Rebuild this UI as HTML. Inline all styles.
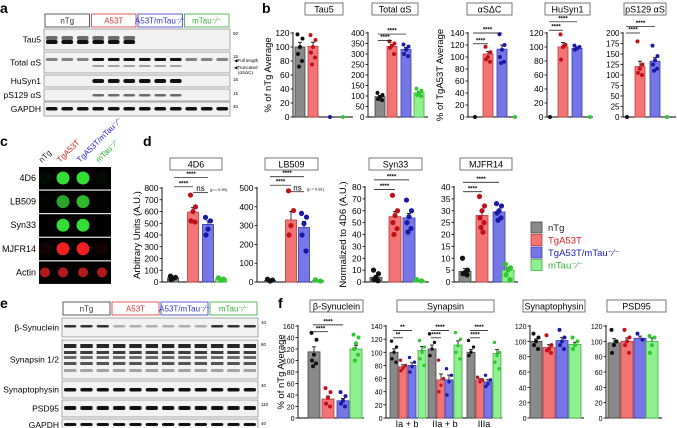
<!DOCTYPE html>
<html><head><meta charset="utf-8">
<style>
html,body{margin:0;padding:0;background:#fff;}
svg{display:block;font-family:"Liberation Sans",sans-serif;}
</style></head>
<body>
<svg id="fig" width="677" height="428" viewBox="0 0 677 428" xmlns="http://www.w3.org/2000/svg">
<g id="static" font-weight="bold" font-size="14">
<text x="0" y="13">a</text>
<text x="262" y="13">b</text>
<text x="0" y="146">c</text>
<text x="143" y="146">d</text>
<text x="0" y="308">e</text>
<text x="278" y="308">f</text>
</g>
</svg>
<script>
// ---------- data ----------
const groups = ["nTg","TgA53T","TgA53T/mTau-/-","mTau-/-"];
const tau5Means = [100,101,0,0];
const tau5Pts = [[118,112,100,90,80,72],[117,110,100,92,85,75],[0],[0]];
const totalMeans = [97,336,322,115];
const totalPts = [[115,105,95,85,80],[360,350,340,330,300],[345,335,320,300,290],[135,125,115,105,100]];
const dcMeans = [0,105,113,0];
const dcPts = [[0],[117,108,100,96,92],[138,120,112,100,92,90],[0]];
const husynMeans = [0,100,98,0];
const husynPts = [[0],[118,103,100,82],[102,100,98,96],[0]];
const pSMeans = [0,120,133,0];
const pSPts = [[0],[180,125,115,105,100],[170,145,135,125,115,110],[0]];
const d4Means = [35,595,490,25];
const d4Pts = [[50,40,30,20],[740,640,600,520,510],[550,520,450,400],[35,25,15]];
const lbMeans = [8,330,290,8];
const lbPts = [[15,10,5],[485,380,300,250],[365,345,310,250,165],[12,5]];
const syn33Means = [4,55,54,1];
const syn33Pts = [[10,7,4,2,1],[73,60,56,50,45,40],[69,60,55,50,45,42],[2,1]];
const mjMeans = [4.5,28,29.5,5];
const mjPts = [[10,5,4,3.5,3],[36,32,30,27,25,23,21],[33,32,30,29,27,26],[7.5,6,5,3,1]];
const bsynMeans = [115,33,30,120];
const bsynPts = [[148,136,110,100,95,90],[52,45,35,25,20],[45,38,30,25,20],[145,140,130,120,110,100]];
const synapsinCats = ["Ia + b","IIa + b","IIIa"];
const synapsinMeans = [[100,78,80,103],[105,58,58,111],[100,58,55,98]];
const synapsinPts = [[[117,108,100,90,85],[88,80,76,72],[92,85,78,70],[118,108,100,90,80]],
  [[128,115,105,95],[88,60,50,40],[75,65,55,35],[130,120,110,100,90]],
  [[118,108,100,95],[62,58,55],[65,58,52,48],[115,100,95,85,75]]];
const sypMeans = [100,92,101,96];
const sypPts = [[110,105,100,95,90],[108,95,90,88,85],[115,105,100,95,90],[105,100,95,90]];
const psdMeans = [98,100,104,100];
const psdPts = [[115,100,95,85],[115,105,100,95,85],[110,102],[107,105,95,85]];

// ---------- helpers ----------
const NS="http://www.w3.org/2000/svg";
const svg=document.getElementById('fig');
function mk(tag,attrs,parent){const e=document.createElementNS(NS,tag);for(const k in attrs)e.setAttribute(k,attrs[k]);(parent||svg).appendChild(e);return e;}
function txt(x,y,s,attrs,parent){const t=mk('text',Object.assign({x:x,y:y,'font-size':9,fill:'#000'},attrs||{}),parent);t.textContent=s;return t;}
const fills=["#8a8a8a","#f27474","#7676e6","#8ff08f"];
const strokes=["#444","#c03838","#3a3aa8","#3fae3f"];
const dots=["#111","#c0101a","#1a1aa6","#2ec82e"];
const jit=[-2.5,2.5,0,-2,2,-1,1];

function chart(c){
  const g=mk('g',{});
  
  
  const y=v=>c.y0-(v/c.max)*(c.y0-c.ytop);
  // title box
  if(c.title){
    const tb=mk('rect',{x:c.tx0,y:c.ty,width:c.tx1-c.tx0,height:12,fill:'#fff',stroke:'#555','stroke-width':0.8},g);
    
    const tt=txt((c.tx0+c.tx1)/2,c.ty+9.5,c.title,{'text-anchor':'middle','font-size':9},g);
    
  }
  // axes
  mk('line',{x1:c.ax,y1:c.ytop-1,x2:c.ax,y2:c.y0,stroke:'#000','stroke-width':0.9},g);
  mk('line',{x1:c.ax,y1:c.y0,x2:c.xend,y2:c.y0,stroke:'#000','stroke-width':0.9},g);
  for(let v=0;v<=c.max+1e-9;v+=c.step){
    const yy=y(v);
    mk('line',{x1:c.ax-2.5,y1:yy,x2:c.ax,y2:yy,stroke:'#000','stroke-width':0.8},g);
    if(c.minor){mk('line',{x1:c.ax-1.5,y1:y(v+c.step/2),x2:c.ax,y2:y(v+c.step/2),stroke:'#000','stroke-width':0.6},g);}
    const tl=txt(c.ax-3.5,yy+3,String(v),{'text-anchor':'end','font-size':c.fs||8.5},g);
    
  }
  if(c.ylab){
    const yl=txt(0,0,c.ylab,{'text-anchor':'middle','font-size':9.5,transform:`translate(${c.ylx},${(c.ytop+c.y0)/2}) rotate(-90)`},g);
    
  }
  // bars
  c.sets.forEach((set,si)=>{
    set.means.forEach((m,i)=>{
      const cx=set.xs[i], w=c.bw||10;
      if(m>0){
        const b=mk('rect',{x:cx-w/2,y:y(m),width:w,height:c.y0-y(m),fill:fills[i],stroke:strokes[i],'stroke-width':0.8},g);
        
        
        const pts=set.pts[i];
        const mean=pts.reduce((a,b)=>a+b,0)/pts.length;
        const sd=Math.sqrt(pts.reduce((a,b)=>a+(b-mean)**2,0)/pts.length)/Math.sqrt(pts.length);
        mk('line',{x1:cx,y1:y(m),x2:cx,y2:y(m+sd),stroke:'#000','stroke-width':0.8},g);
        mk('line',{x1:cx-2,y1:y(m+sd),x2:cx+2,y2:y(m+sd),stroke:'#000','stroke-width':0.8},g);
      }
      set.pts[i].forEach((p,k)=>{
        const d=mk('circle',{cx:cx+(set.pts[i].length>1?jit[k%jit.length]:0),cy:y(p),r:c.r||2,fill:dots[i]},g);
        
      });
    });
  });
  // significance
  (c.sig||[]).forEach(s=>{
    const yy=y(s.v);
    mk('line',{x1:s.x1,y1:yy,x2:s.x2,y2:yy,stroke:'#000','stroke-width':0.7},g);
    txt((s.x1+s.x2)/2,yy-1.5,s.t,{'text-anchor':'middle','font-size':6,'font-weight':'bold'},g);
  });
  (c.xlabels||[]).forEach(l=>{const t=txt(l.x,l.y,l.t,{'text-anchor':'middle','font-size':9},g);
    });
  return g;
}

// ---------- panel b ----------
chart({name:'tau5-chart',title:'Tau5',tx0:305,tx1:343,ty:3,ax:293,ytop:33,y0:117,max:120,step:20,xend:353,ylab:'% of nTg Average',ylx:271,
  sets:[{xs:[300,313,330,343],means:tau5Means,pts:tau5Pts}]});
chart({name:'total-as-chart',title:'Total \u03B1S',tx0:372,tx1:418,ty:3,ax:368,ytop:33,y0:117,max:400,step:50,xend:428,fs:8,
  sets:[{xs:[380,392,406,419],means:totalMeans,pts:totalPts}],
  sig:[{x1:378,x2:392,v:365,t:'****'},{x1:378,x2:406,v:395,t:'****'}]});
chart({name:'as-dc-chart',title:'\u03B1S\u0394C',tx0:467,tx1:512,ty:3,ax:468,ytop:33,y0:117,max:140,step:20,xend:517,ylab:'% of TgA53T Average',ylx:443,
  sets:[{xs:[475,488,502,515],means:dcMeans,pts:dcPts}],
  sig:[{x1:473,x2:488,v:122,t:'****'},{x1:473,x2:502,v:140,t:'****'}]});
chart({name:'husyn1-chart',title:'HuSyn1',tx0:545,tx1:590,ty:3,ax:547,ytop:33,y0:117,max:120,step:20,xend:593,
  sets:[{xs:[550,563,577,590],means:husynMeans,pts:husynPts}],
  sig:[{x1:549,x2:563,v:124,t:'****'},{x1:549,x2:577,v:136,t:'****'}]});
chart({name:'ps129-chart',title:'pS129 \u03B1S',tx0:624,tx1:666,ty:3,ax:623,ytop:33,y0:117,max:200,step:25,xend:676,fs:8,
  sets:[{xs:[627,640,655,667],means:pSMeans,pts:pSPts}],
  sig:[{x1:626,x2:640,v:200,t:'****'},{x1:626,x2:655,v:215,t:'****'}]});

// ---------- panel d ----------
chart({name:'4d6-chart',title:'4D6',tx0:170,tx1:222,ty:158,ax:162,ytop:188,y0:282,max:800,step:100,xend:226,ylab:'Arbitrary Units (A.U.)',ylx:140,r:2.6,bw:11,
  sets:[{xs:[173,193,208,221],means:d4Means,pts:d4Pts}],
  sig:[{x1:174,x2:193,v:810,t:'****'},{x1:174,x2:208,v:890,t:'****'},{x1:193,x2:208,v:760,t:'ns'}]});
chart({name:'lb509-chart',title:'LB509',tx0:265,tx1:318,ty:158,ax:257,ytop:188,y0:282,max:500,step:100,xend:322,r:2.6,bw:11,
  sets:[{xs:[270,291,304,318],means:lbMeans,pts:lbPts}],
  sig:[{x1:270,x2:291,v:515,t:'****'},{x1:270,x2:304,v:560,t:'****'},{x1:291,x2:304,v:480,t:'ns'}]});
chart({name:'syn33-chart',title:'Syn33',tx0:369,tx1:422,ty:158,ax:365,ytop:187,y0:282,max:80,step:10,xend:429,ylab:'Normalized to 4D6 (A.U.)',ylx:346,r:2.6,bw:12,
  sets:[{xs:[376,395,409,419],means:syn33Means,pts:syn33Pts}],
  sig:[{x1:374,x2:395,v:78,t:'****'},{x1:374,x2:409,v:86,t:'****'}]});
chart({name:'mjfr14-chart',title:'MJFR14',tx0:460,tx1:512,ty:158,ax:454,ytop:187,y0:282,max:40,step:5,xend:518,r:2.6,bw:12,
  sets:[{xs:[465,482,499,508],means:mjMeans,pts:mjPts}],
  sig:[{x1:463,x2:482,v:38,t:'****'},{x1:463,x2:499,v:42,t:'****'}]});
svg.querySelectorAll('text').forEach(t=>{if(t.textContent==='ns'){t.setAttribute('font-size','8');t.setAttribute('font-weight','normal');
  const p=t.cloneNode();p.textContent=t.getAttribute('x')<250?'(p = 0.99)':'(p = 0.81)';p.setAttribute('x',+t.getAttribute('x')+18);p.setAttribute('font-size','4');svg.appendChild(p);}});

// legend
const legLabels=["nTg","TgA53T","TgA53T/mTau\u207B\u2044\u207B","mTau\u207B\u2044\u207B"];
const legColors=["#d34040","#3838c8"];
legLabels.forEach((l,i)=>{
  const yy=227+i*12.5;
  const r=mk('rect',{x:531,y:yy-5,width:11,height:11,fill:fills[i],stroke:strokes[i],'stroke-width':0.8});
  
  const t=txt(548,yy+4,l,{'font-size':9.5,fill:["#222","#d02020","#2020b8","#30b030"][i]});
  
});

// ---------- panel f ----------
chart({name:'beta-synuclein-chart',title:'\u03B2-Synuclein',tx0:310,tx1:363,ty:300,ax:298,ytop:326,y0:418,max:160,step:20,xend:364,ylab:'% of nTg Average',ylx:284,fs:7,bw:12,
  sets:[{xs:[314,328,343,356],means:bsynMeans,pts:bsynPts}],
  sig:[{x1:313,x2:328,v:150,t:'****'},{x1:313,x2:343,v:162,t:'****'}]});
chart({name:'synapsin-chart',title:'Synapsin',tx0:397,tx1:494,ty:300,ax:386,ytop:326,y0:418,max:140,step:20,xend:502,fs:7,bw:8,r:1.7,
  sets:synapsinCats.map((c,k)=>({xs:[[394,403,412,422],[432,441,449,458],[471,480,488,497]][k],means:synapsinMeans[k],pts:synapsinPts[k]})),
  sig:[{x1:393,x2:403,v:122,t:'**'},{x1:393,x2:412,v:133,t:'**'},{x1:431,x2:441,v:122,t:'****'},{x1:431,x2:449,v:133,t:'****'},{x1:470,x2:480,v:122,t:'****'},{x1:470,x2:488,v:133,t:'****'}],
  xlabels:synapsinCats.map((t,k)=>({x:[407,445,484][k],y:427,t:t}))});
chart({name:'synaptophysin-chart',title:'Synaptophysin',tx0:523,tx1:585,ty:300,ax:530,ytop:326,y0:418,max:120,step:20,xend:584,fs:7,bw:12,
  sets:[{xs:[536,549,562,575],means:sypMeans,pts:sypPts}]});
chart({name:'psd95-chart',title:'PSD95',tx0:607,tx1:666,ty:300,ax:606,ytop:326,y0:418,max:120,step:20,xend:662,fs:7,bw:12,
  sets:[{xs:[614,627,640,652],means:psdMeans,pts:psdPts}]});

// ---------- blots ----------
function headers(x0,w,y0,labels){
  const cols=["#333","#d33","#33c","#3a3"];
  labels.forEach((l,i)=>{
    const r=mk('rect',{x:x0+i*w+1,y:y0,width:w-2,height:13,fill:'#fff',stroke:cols[i],'stroke-width':0.8});
    
    const t=txt(x0+i*w+w/2,y0+9.5,l,{'text-anchor':'middle','font-size':8,fill:cols[i]});
    
  });
}
function blotRow(x0,x1,y0,h,label,lanes,bandFn,mw){
  const g=mk('g',{});
  
  
  mk('rect',{x:x0,y:y0,width:x1-x0,height:h,fill:'#f2f2f2',stroke:'#888','stroke-width':0.7},g);
  const lw=(x1-x0)/12;
  for(let i=0;i<12;i++)bandFn(g,x0+lw*i+lw*0.12,lw*0.76,i);
  txt(x0-3,y0+h/2+3,label,{'text-anchor':'end','font-size':8.5},g);
  if(mw)txt(x1+3,y0+6,mw,{'font-size':4.5},g);
}
const band=(yy,hh,op)=>(g,x,w,i)=>{const o=typeof op==='function'?op(i):op;if(o>0)mk('rect',{x:x,y:yy,width:w,height:hh,rx:2,fill:'#111','fill-opacity':o},g);};
headers(44,46.5,14,["nTg","A53T","A53T/mTau\u207B\u2044\u207B","mTau\u207B\u2044\u207B"]);
blotRow(44,230,29,21,"Tau5",12,(g,x,w,i)=>{if(i<6){mk('rect',{x:x,y:36,width:w,height:4,rx:2,fill:'#111','fill-opacity':0.6},g);mk('rect',{x:x,y:40,width:w,height:4,rx:2,fill:'#111'},g);}},"50");
blotRow(44,230,52,21,"Total \u03B1S",12,(g,x,w,i)=>{mk('rect',{x:x,y:58,width:w,height:3,rx:1.5,fill:'#111','fill-opacity':(i>=3&&i<9)?1:0.5},g);if(i>=3&&i<9)mk('rect',{x:x,y:65,width:w,height:2,rx:1,fill:'#111','fill-opacity':0.35},g);},"15");
blotRow(44,230,75,12,"HuSyn1",12,band(79,4,i=>(i>=3&&i<9)?1:0),"15");
blotRow(44,230,89,12,"pS129 \u03B1S",12,band(94,2.5,i=>(i>=3&&i<9)?0.6:0),"15");
blotRow(44,230,102,14,"GAPDH",12,band(107,3.5,1),"40");
txt(234,62,"\u25C0Full length",{'font-size':4.5});
txt(234,69,"\u25C0Truncated",{'font-size':4.5});
txt(238,74,"(\u03B1S\u0394C)",{'font-size':4.5});

headers(62,49,302,["nTg","A53T","A53T/mTau\u207B\u2044\u207B","mTau\u207B\u2044\u207B"]);
blotRow(62,258,318,19,"\u03B2-Synuclein",12,band(325,2.5,i=>(i<3||i>=9)?0.85:0.3),"10");
blotRow(62,258,340,39,"Synapsin 1/2",12,(g,x,w,i)=>{[[344,4,0.9],[351,3,0.8],[356,3,0.6],[362,3,0.7],[369,3,0.35]].forEach(b=>mk('rect',{x:x,y:b[0],width:w,height:b[1],fill:'#111','fill-opacity':b[2]},g));},"80");
blotRow(62,258,381,17,"Synaptophysin",12,band(388,3.5,1),"40");
blotRow(62,258,400,17,"PSD95",12,band(406,4,1),"110");
blotRow(62,258,419,12,"GAPDH",12,band(423,3,1),"40");

// ---------- panel c dot blot ----------
const dotRows=["4D6","LB509","Syn33","MJFR14","Actin"];
const dotInt=[[0.05,1,1,0.05],[0.02,0.8,0.9,0.02],[0,1,1,0],[0.08,1,1,0.08],[0.8,0.8,0.8,0.8]];
const dotCol=["#33dd33","#33cc33","#33dd33","#ee2020","#dd2020"];
dotRows.forEach((r,k)=>{
  const y0=167+k*23.6;
  const g=mk('g',{});
  
  
  mk('rect',{x:39,y:y0,width:72,height:22.5,fill:'#000'},g);
  [45,63,83,102].forEach((cx,i)=>{if(dotInt[k][i]>0)mk('circle',{cx:cx,cy:y0+11,r:k==4?5:6.5,fill:dotCol[k],'fill-opacity':dotInt[k][i]},g);});
  txt(36,y0+14,r,{'text-anchor':'end','font-size':9},g);
});
[["nTg","#222",45],["TgA53T","#d22",63],["TgA53T/mTau\u207B\u2044\u207B","#22c",83],["mTau\u207B\u2044\u207B","#2a2",102]].forEach(l=>{
  const t=txt(l[2]-3,163,l[0],{'font-size':8,fill:l[1],transform:`rotate(-45 ${l[2]-3} 163)`});
  
});
</script>
</body></html>
